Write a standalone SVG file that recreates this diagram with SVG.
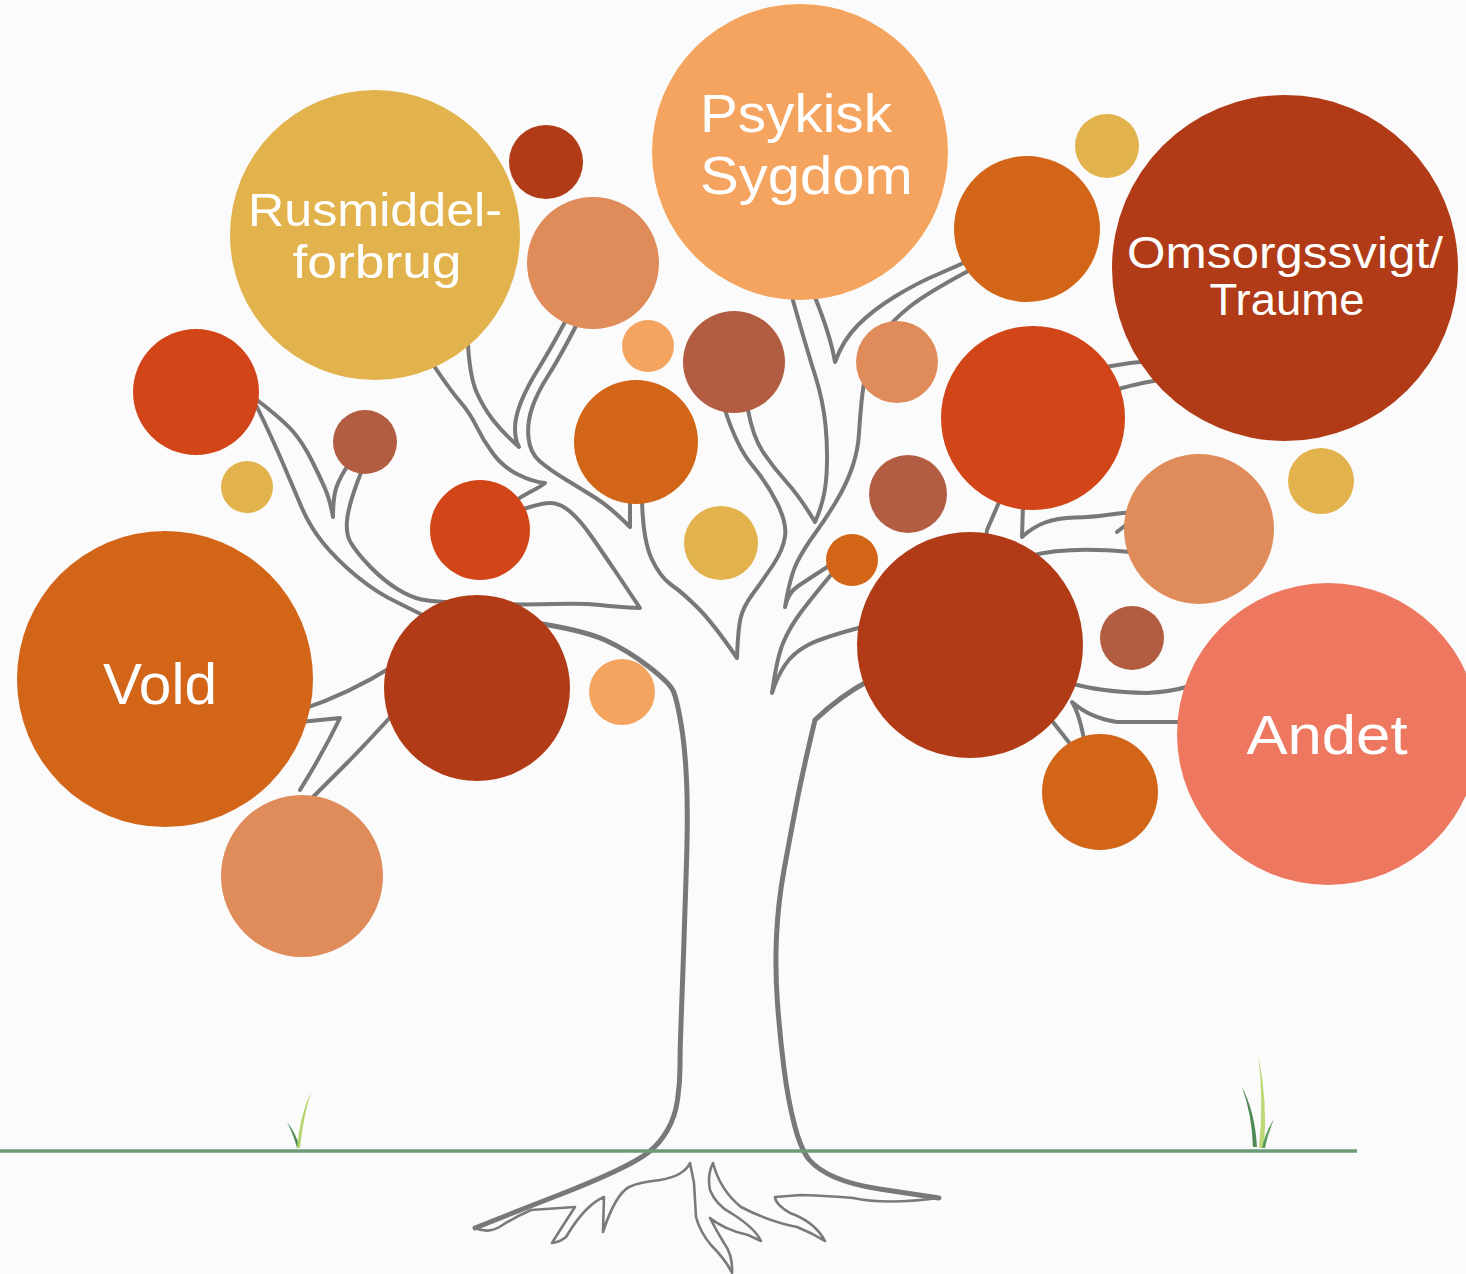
<svg xmlns="http://www.w3.org/2000/svg" width="1466" height="1274" viewBox="0 0 1466 1274">
<style>
.br{fill:none;stroke:#787878;stroke-width:4;stroke-linejoin:round;stroke-linecap:round}
.tk{fill:none;stroke:#787878;stroke-width:5;stroke-linejoin:round;stroke-linecap:round}
.rt{fill:none;stroke:#7a7a7a;stroke-width:2.6;stroke-linejoin:round;stroke-linecap:round}
.lbl{font-family:"Liberation Sans",Arial,sans-serif;fill:#ffffff}
.c-yel{fill:#E2B24C}.c-dk{fill:#B03B16}.c-sal{fill:#E08C5A}.c-lo{fill:#F5A460}
.c-or{fill:#D36518}.c-rd{fill:#D24518}.c-br{fill:#B25C41}.c-co{fill:#EE7760}
</style>
<rect width="1466" height="1274" fill="#fbfbfb"/>
<g id="tree">
<path class="br" d="M257,400 Q283,420 293,431.5 Q303,443 311.5,460 Q320,477 325,488.5 Q330,500 333,517 Q333,497 336.5,487 Q340,477 350,462"/>
<path class="br" d="M257,407 Q273,440 283,463.5 Q293,487 301.5,507 Q310,527 323.5,543.5 Q337,560 357,576.5 Q377,593 398.5,603 Q420,613 440,625"/>
<path class="br" d="M362,470 Q350,500 347.5,516.5 Q345,533 351,543 Q357,553 370,566.5 Q383,580 396.5,588.5 Q410,597 421.5,599.5 Q433,602 478,603.5 Q523,605 553,604 Q583,603 600,605 Q617,607 640,608 Q630,593 616.5,573 Q603,553 591.5,536.5 Q580,520 570,511.5 Q560,503 550,503 Q540,503 515,512"/>
<path class="br" d="M430,360 Q450,390 460,401.5 Q470,413 476.5,426.5 Q483,440 493,453.5 Q503,467 518,474.5 Q533,482 545,483 Q540,487 530,492 Q520,497 510,505"/>
<path class="br" d="M468,345 Q470,377 476.5,392 Q483,407 493,420 Q503,433 519,447 Q515,440 515,428.5 Q515,417 521,402 Q527,387 538.5,368.5 Q550,350 565,322"/>
<path class="br" d="M578,322 Q560,357 548.5,375 Q537,393 532,408 Q527,423 528.5,438 Q530,453 540,461.5 Q550,470 566.5,480 Q583,490 596.5,498.5 Q610,507 630,527 L630,500"/>
<path class="br" d="M642,500 Q643,540 651.5,558.5 Q660,577 671.5,585 Q683,593 698,608 Q713,623 737,658 Q738,630 740.5,618.5 Q743,607 753,593.5 Q763,580 773,565 Q783,550 785,536.5 Q787,523 777,503 Q767,483 752,465 Q737,447 725,410"/>
<path class="br" d="M748,410 Q753,437 763,452 Q773,467 786.5,482 Q800,497 815,522 Q825,500 826.5,475 Q828,450 825.5,425 Q823,400 815,375 Q807,350 790,290"/>
<path class="br" d="M812,290 Q830,333 835,362 Q843,340 858,325 Q873,310 895,296.5 Q917,283 938.5,274 Q960,265 980,255"/>
<path class="br" d="M970,270 Q927,293 910,306.5 Q893,320 881.5,335 Q870,350 866.5,368.5 Q863,387 861.5,402 Q860,417 859,433.5 Q858,450 852.5,466.5 Q847,483 837,500 Q827,517 815,533.5 Q803,550 796.5,563.5 Q790,577 785,607 Q788,593 797.5,586.5 Q807,580 835,562"/>
<path class="br" d="M835,570 Q810,600 800,613.5 Q790,627 783.5,642 Q777,657 772,693 Q777,677 785,665 Q793,653 808,645 Q823,637 870,625"/>
<path class="br" d="M300,710 Q347,695 395,665"/>
<path class="br" d="M300,722 L340,718 Q323,753 300,790"/>
<path class="br" d="M395,712 Q363,747 346.5,763.5 Q330,780 310,800"/>
<path class="br" d="M1000,500 L987,530 L985,545"/>
<path class="br" d="M1023,505 L1022,537 Q1033,527 1045,522.5 Q1057,518 1075,517.5 Q1093,517 1106.5,515 Q1120,513 1135,512"/>
<path class="br" d="M1117,532 L1127,524"/>
<path class="br" d="M1030,556 Q1067,546 1130,552"/>
<path class="br" d="M1105,367 Q1133,362 1160,360"/>
<path class="br" d="M1115,390 Q1150,380 1165,380"/>
<path class="br" d="M1070,683 Q1100,692 1147,693 Q1170,692 1190,686"/>
<path class="br" d="M1190,722 L1117,722 Q1090,718 1072,702 Q1080,715 1085,745"/>
<path class="br" d="M1045,712 L1075,750"/>
<path class="tk" d="M530,622 Q583,630 605,640 Q627,650 648.5,666.5 Q670,683 673.5,691.5 Q677,700 681,723.5 Q685,747 686.5,780 Q688,813 686.5,863 Q685,913 683.5,955 Q682,997 681,1023.5 Q680,1050 680,1066.5 Q680,1083 677.5,1100 Q675,1117 667.5,1130 Q660,1143 649.5,1151.5 Q639,1160 614.5,1171.5 Q590,1183 555,1196.5 Q520,1210 475,1228"/>
<path class="tk" d="M870,680 Q840,696 815,720 Q803,770 796.5,803.5 Q790,837 784,870 Q778,903 776.5,936.5 Q775,970 777.5,1003.5 Q780,1037 784,1068.5 Q788,1100 794.5,1125 Q801,1150 809.5,1160 Q818,1170 835.5,1177.5 Q853,1185 879.5,1189 Q906,1193 939,1198"/>
<path class="rt" d="M475,1228 Q489,1234 501,1226 Q513,1218 531,1210 L575,1207 Q560,1230 552,1243 Q560,1242 566,1237 Q585,1205 604,1197 L603,1232 Q615,1195 629,1187 Q640,1182 660,1180 Q684,1176 690,1163 L694,1183 L696,1217 Q700,1232 711,1245 Q726,1260 732,1273 Q733,1255 724,1243 Q716,1230 710,1218 Q725,1230 748,1235 L761,1241 Q755,1228 731,1213 Q716,1205 710,1190 Q707,1175 713,1163 Q720,1190 741,1207 Q770,1222 797,1227 Q812,1233 825,1241 Q815,1222 790,1213 Q775,1204 775,1197 L801,1195 Q830,1196 853,1198 Q885,1205 939,1198"/>
</g>
<g id="ground">
<line x1="0" y1="1151" x2="1357" y2="1151" stroke="#6a9d77" stroke-width="3.5"/>
<path d="M287,1122 Q294,1136 297,1148 L300,1147 Q295,1132 287,1122 Z" fill="#4f8a55"/>
<path d="M311,1092 Q300,1115 297,1148 L300,1148 Q303,1118 311,1092 Z" fill="#b5d46e"/>
<path d="M1242,1087 Q1252,1115 1253,1147 L1257,1147 Q1255,1112 1242,1087 Z" fill="#4f8a55"/>
<path d="M1258,1055 Q1264,1100 1259,1148 L1264,1148 Q1268,1100 1258,1055 Z" fill="#bcd978"/>
<path d="M1274,1119 Q1265,1133 1262,1148 L1265,1148 Q1268,1133 1274,1119 Z" fill="#5a9a5a"/>
</g>
<g id="c-rusmiddel"><circle class="c-yel" cx="375" cy="235" r="145"/>
<text class="lbl" x="375" y="226" font-size="47" text-anchor="middle" textLength="254" lengthAdjust="spacingAndGlyphs">Rusmiddel-</text>
<text class="lbl" x="377" y="278" font-size="47" text-anchor="middle" textLength="169" lengthAdjust="spacingAndGlyphs">forbrug</text></g>
<g id="c2"><circle class="c-dk" cx="546" cy="162" r="37"/></g>
<g id="c3"><circle class="c-sal" cx="593" cy="263" r="66"/></g>
<g id="c-psykisk"><circle class="c-lo" cx="800" cy="152" r="148"/>
<text class="lbl" x="700" y="132" font-size="54" textLength="192" lengthAdjust="spacingAndGlyphs">Psykisk</text>
<text class="lbl" x="700" y="194" font-size="54" textLength="213" lengthAdjust="spacingAndGlyphs">Sygdom</text></g>
<g id="c5"><circle class="c-or" cx="1027" cy="229" r="73"/></g>
<g id="c6"><circle class="c-yel" cx="1107" cy="146" r="32"/></g>
<g id="c-omsorg"><circle class="c-dk" cx="1285" cy="268" r="173"/>
<text class="lbl" x="1285" y="268" font-size="44" text-anchor="middle" textLength="316" lengthAdjust="spacingAndGlyphs">Omsorgssvigt/</text>
<text class="lbl" x="1287" y="315" font-size="44" text-anchor="middle" textLength="155" lengthAdjust="spacingAndGlyphs">Traume</text></g>
<g id="c8"><circle class="c-rd" cx="196" cy="392" r="63"/></g>
<g id="c9"><circle class="c-br" cx="365" cy="442" r="32"/></g>
<g id="c10"><circle class="c-yel" cx="247" cy="487" r="26"/></g>
<g id="c11"><circle class="c-lo" cx="648" cy="346" r="26"/></g>
<g id="c12"><circle class="c-br" cx="734" cy="362" r="51"/></g>
<g id="c13"><circle class="c-or" cx="636" cy="442" r="62"/></g>
<g id="c14"><circle class="c-rd" cx="480" cy="530" r="50"/></g>
<g id="c15"><circle class="c-yel" cx="721" cy="543" r="37"/></g>
<g id="c16"><circle class="c-sal" cx="897" cy="362" r="41"/></g>
<g id="c17"><circle class="c-rd" cx="1033" cy="418" r="92"/></g>
<g id="c18"><circle class="c-br" cx="908" cy="494" r="39"/></g>
<g id="c19"><circle class="c-or" cx="852" cy="560" r="26"/></g>
<g id="c20"><circle class="c-sal" cx="1199" cy="529" r="75"/></g>
<g id="c21"><circle class="c-yel" cx="1321" cy="481" r="33"/></g>
<g id="c22"><circle class="c-dk" cx="970" cy="645" r="113"/></g>
<g id="c23"><circle class="c-br" cx="1132" cy="638" r="32"/></g>
<g id="c-andet"><circle class="c-co" cx="1328" cy="734" r="151"/>
<text class="lbl" x="1327" y="754" font-size="56" text-anchor="middle" textLength="161" lengthAdjust="spacingAndGlyphs">Andet</text></g>
<g id="c25"><circle class="c-or" cx="1100" cy="792" r="58"/></g>
<g id="c-vold"><circle class="c-or" cx="165" cy="679" r="148"/>
<text class="lbl" x="160" y="704" font-size="58" text-anchor="middle" textLength="114" lengthAdjust="spacingAndGlyphs">Vold</text></g>
<g id="c27"><circle class="c-dk" cx="477" cy="688" r="93"/></g>
<g id="c28"><circle class="c-lo" cx="622" cy="692" r="33"/></g>
<g id="c29"><circle class="c-sal" cx="302" cy="876" r="81"/></g>
</svg>
